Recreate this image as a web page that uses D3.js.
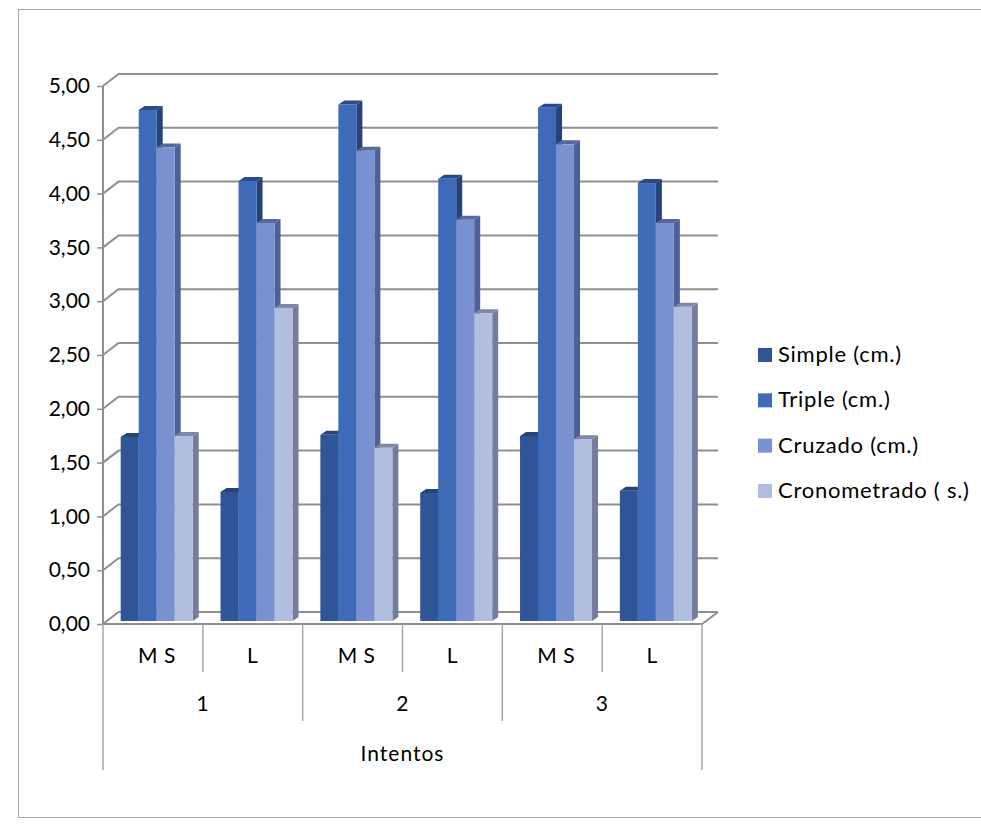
<!DOCTYPE html>
<html><head><meta charset="utf-8">
<script src="https://cdn.jsdelivr.net/npm/d3@7/dist/d3.min.js"></script>
<style>html,body{margin:0;padding:0;background:#fff;overflow:hidden}svg{display:block}text{font-family:Lato,"Open Sans",sans-serif;fill:#000}</style>
</head><body><svg id="c" width="981" height="832"></svg>
<script>
const categories = ["M S","L","M S","L","M S","L"];
const groups = ["1","2","3"];
const outerLabel = "Intentos";
const seriesNames = ["Simple (cm.)","Triple (cm.)","Cruzado (cm.)","Cronometrado ( s.)"];
const simple = [1.71,1.20,1.73,1.19,1.72,1.21];
const triple = [4.75,4.09,4.80,4.11,4.77,4.07];
const cruzado = [4.40,3.70,4.37,3.73,4.43,3.70];
const crono = [1.72,2.91,1.61,2.86,1.69,2.92];
const tickValues = [0,0.5,1,1.5,2,2.5,3,3.5,4,4.5,5];
const frontColors = ["#2f5597","#3e6ab8","#7a91d0","#b2bedf"];
const sideColors = ["#264478","#254379","#4f6096","#737d9c"];
const topColors = ["#264478","#2a4a85","#55689f","#7d88a8"];

const svg = d3.select("#c");
const gray = "#8f8f8f";
svg.append("rect").attr("x",18.5).attr("y",9.5).attr("width",980).attr("height",808).attr("fill","#fff").attr("stroke","#a6a6a6");

const x0 = 103, x1 = 702, wallDx = 15.5, wallDy = 12;
const y = d3.scaleLinear().domain([0,5]).range([624,86]);
const xCat = d3.scaleBand().domain(d3.range(categories.length)).range([x0,x1]);
const xBar = d3.scaleBand().domain(d3.range(seriesNames.length)).range([0,72]);
const barInset = 17.7, barDx = 6, barDy = 4, barLift = 3;
const fmt = v => d3.format(".2f")(v).replace(".",",");

const grid = svg.append("g").attr("fill","none").attr("stroke",gray).attr("stroke-width",2);
tickValues.forEach(v => {
  const yy = y(v);
  grid.append("path").attr("d",`M${x0},${yy}L${x0+wallDx},${yy-wallDy}L${x1+wallDx+0.5},${yy-wallDy}`);
});
grid.append("path").attr("d",`M${x0},${y(0)}L${x1},${y(0)}L${x1+wallDx+0.5},${y(0)-wallDy}`);

const axis = d3.axisLeft(y).tickValues(tickValues).tickFormat(fmt).tickSize(6).tickPadding(7);
const ax = svg.append("g").attr("transform",`translate(${x0},0)`).call(axis);
ax.select(".domain").attr("stroke",gray).attr("stroke-width",2).attr("d",`M0,${y(5)}V${y(0)}`);
ax.selectAll(".tick line").attr("stroke",gray).attr("stroke-width",1.5);
ax.selectAll(".tick text").attr("font-size",21).attr("font-family","Lato").attr("fill","#000");

const seriesValues = [simple,triple,cruzado,crono];
categories.forEach((c,i) => {
  seriesValues.forEach((vals,s) => {
    const l = xCat(i)+barInset+xBar(s), w = xBar.bandwidth(), r = l+w;
    const t = y(vals[i])-barLift, b = y(0)-barLift;
    const g = svg.append("g");
    g.append("polygon").attr("fill",sideColors[s])
      .attr("points",[[r,t],[r+barDx,t-barDy],[r+barDx,b-barDy],[r,b]].join(" "));
    g.append("polygon").attr("fill",topColors[s])
      .attr("points",[[l,t],[l+barDx,t-barDy],[r+barDx,t-barDy],[r,t]].join(" "));
    g.append("rect").attr("x",l).attr("y",t).attr("width",w).attr("height",b-t).attr("fill",frontColors[s]);
  });
});

const sep = svg.append("g").attr("stroke","#a6a6a6").attr("stroke-width",1.5);
const yAxisTop = y(0);
d3.range(categories.length+1).forEach(i => {
  const xx = i===categories.length ? x1 : xCat(i);
  const end = (i===0||i===categories.length) ? 770 : (i%2===0 ? 721 : 672);
  sep.append("line").attr("x1",xx).attr("x2",xx).attr("y1",yAxisTop).attr("y2",end);
});
const lab = svg.append("g").attr("text-anchor","middle").attr("font-size",21).style("letter-spacing","0.5px");
categories.forEach((c,i)=> lab.append("text").attr("x",xCat(i)+xCat.bandwidth()/2+ (c==="L"?0:4)).attr("y",663).text(c));
groups.forEach((c,i)=> lab.append("text").attr("x",xCat(i*2)+xCat.bandwidth()).attr("y",711).text(c));
lab.append("text").attr("x",(x0+x1)/2).attr("y",761).style("letter-spacing","1px").text(outerLabel);

const legendY = d3.scalePoint().domain(seriesNames).range([355,491]);
const leg = svg.append("g");
seriesNames.forEach((n,s)=>{
  leg.append("rect").attr("x",758).attr("y",legendY(n)-7).attr("width",14).attr("height",14).attr("fill",frontColors[s]);
  leg.append("text").attr("x",778).attr("y",legendY(n)+7).attr("font-size",22).style("letter-spacing","0.75px").text(n);
});
</script></body></html>
